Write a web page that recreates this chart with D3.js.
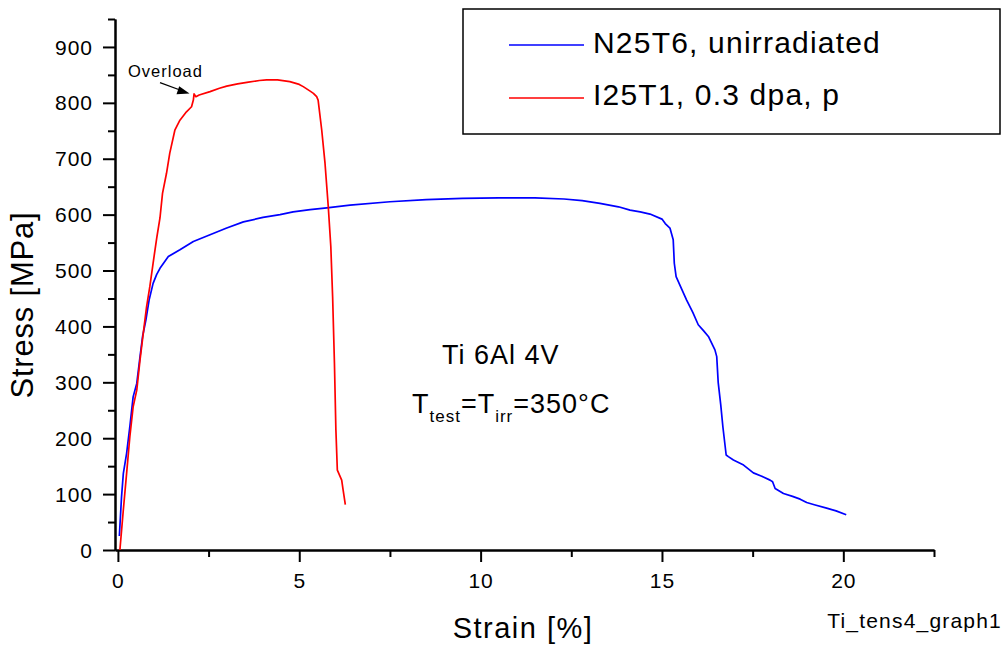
<!DOCTYPE html>
<html>
<head>
<meta charset="utf-8">
<script src="https://cdn.jsdelivr.net/npm/d3@7"></script>
<style>
  html, body { margin: 0; padding: 0; background: #fff; }
  svg { display: block; font-family: "Liberation Sans", Arial, sans-serif; }
</style>
</head>
<body>
<svg id="chart" width="1008" height="647"></svg>
<script>
// ---- data ----
const blueStrain = [0.04,0.10,0.15,0.24,0.33,0.42,0.52,0.61,0.68,0.77,0.86,0.97,1.07,1.16,1.39,1.71,2.08,2.54,3.0,3.46,4.0,4.47,4.83,5.3,5.76,6.4,7.5,8.5,9.5,10.5,11.5,12.3,12.8,13.29,13.8,14.12,14.4,14.67,15.0,15.09,15.22,15.31,15.34,15.39,15.55,15.68,15.85,16.0,16.15,16.28,16.4,16.46,16.51,16.55,16.62,16.68,16.77,16.83,16.97,17.25,17.52,17.75,17.98,18.05,18.12,18.35,18.6,18.81,18.99,19.2,19.54,19.8,20.08];
const blueStress = [25,95,137,173,221,274,298,346,382,411,447,477,493,504,525,537,552,564,576,587,595,600,605,609,612,617,623,627,629,630,630,628,625,620,614,608,605,601,592,584,576,555,513,489,466,447,425,403,392,382,366,358,346,300,260,220,170,167,161,152,138,132,125,122,110,101,96,91,85,81,75,70,63];
const redStrain = [0.055,0.15,0.24,0.33,0.42,0.52,0.61,0.70,0.79,0.88,0.97,1.07,1.16,1.23,1.34,1.43,1.57,1.71,1.89,2.03,2.08,2.10,2.15,2.24,2.54,2.8,3.0,3.3,3.6,3.9,4.1,4.4,4.74,5.0,5.11,5.3,5.39,5.48,5.52,5.62,5.71,5.80,5.87,5.92,5.97,6.01,6.05,6.17,6.21,6.27];
const redStress = [0,72,137,203,256,286,340,388,435,471,513,558,594,638,674,710,751,769,784,793,805,816,811,814,820,826,830,834,837,840,841,841,838,833,829,821,817,811,805,751,692,614,543,453,334,215,143,125,107,81];
const seriesNames = ["N25T6, unirradiated", "I25T1, 0.3 dpa, p"];
const seriesColors = ["#0000ff", "#ff0000"];
const xMajorTicks = [0, 5, 10, 15, 20];
const xMinorTicks = [2.5, 7.5, 12.5, 17.5, 22.5];
const yMajorTicks = [0, 100, 200, 300, 400, 500, 600, 700, 800, 900];
const yMinorTicks = [50, 150, 250, 350, 450, 550, 650, 750, 850, 950];

const svg = d3.select("#chart");
const x = d3.scaleLinear().domain([-0.08, 22.5]).range([115, 934]);
const y = d3.scaleLinear().domain([0, 950]).range([550, 19]);

// ---- axes ----
function styleAxis(g) {
  g.selectAll("path.domain").attr("stroke", "#000").attr("stroke-width", 2);
  g.selectAll(".tick line").attr("stroke", "#000").attr("stroke-width", 2);
  g.selectAll(".tick text").attr("fill", "#000").style("font-size", "21px")
    .style("letter-spacing", "1px").style("font-family", "'Liberation Sans', Arial, sans-serif");
}
const xMinor = svg.append("g").attr("transform", "translate(0,550)")
  .call(d3.axisBottom(x).tickValues(xMinorTicks).tickSize(7).tickSizeOuter(0).tickFormat(""));
styleAxis(xMinor);
const yMinor = svg.append("g").attr("transform", "translate(115,0)")
  .call(d3.axisLeft(y).tickValues(yMinorTicks).tickSize(7).tickSizeOuter(0).tickFormat(""));
styleAxis(yMinor);
const xAxis = svg.append("g").attr("transform", "translate(0,550)")
  .call(d3.axisBottom(x).tickValues(xMajorTicks).tickSize(12).tickSizeOuter(0).tickPadding(11).tickFormat(d3.format("d")));
styleAxis(xAxis);
const yAxis = svg.append("g").attr("transform", "translate(115,0)")
  .call(d3.axisLeft(y).tickValues(yMajorTicks).tickSize(12).tickSizeOuter(0).tickPadding(10).tickFormat(d3.format("d")));
styleAxis(yAxis);
yAxis.selectAll(".tick text").attr("dy", "0.34em");

// ---- lines ----
const line = d3.line().x(d => x(d[0])).y(d => y(d[1]));
const blueData = blueStrain.map((v, i) => [v, blueStress[i]]);
const redData = redStrain.map((v, i) => [v, redStress[i]]);
svg.append("path").datum(blueData).attr("d", line)
  .attr("fill", "none").attr("stroke", seriesColors[0]).attr("stroke-width", 1.7).attr("stroke-linejoin", "round");
svg.append("path").datum(redData).attr("d", line)
  .attr("fill", "none").attr("stroke", seriesColors[1]).attr("stroke-width", 1.7).attr("stroke-linejoin", "round");

// ---- axis titles ----
svg.append("text").attr("x", 523).attr("y", 638).attr("text-anchor", "middle")
  .style("font-size", "29px").style("letter-spacing", "1.5px").text("Strain [%]");
svg.append("text").attr("transform", "translate(33,305) rotate(-90)").attr("text-anchor", "middle")
  .style("font-size", "31px").style("letter-spacing", "0.8px").text("Stress [MPa]");
svg.append("text").attr("x", 1002).attr("y", 628).attr("text-anchor", "end")
  .style("font-size", "21px").style("letter-spacing", "1.2px").text("Ti_tens4_graph1");

// ---- legend ----
const legend = svg.append("g");
legend.append("rect").attr("x", 463).attr("y", 9).attr("width", 537).attr("height", 125)
  .attr("fill", "#fff").attr("stroke", "#000").attr("stroke-width", 1.5);
seriesNames.forEach((name, i) => {
  const yy = [45, 98][i];
  legend.append("line").attr("x1", 509).attr("x2", 584).attr("y1", yy).attr("y2", yy)
    .attr("stroke", seriesColors[i]).attr("stroke-width", 1.7);
  legend.append("text").attr("x", 593).attr("y", [53, 105][i])
    .style("font-size", "30px").style("letter-spacing", "1.2px").text(name);
});

// ---- annotations ----
svg.append("text").attr("x", 128).attr("y", 77)
  .style("font-size", "16.5px").style("letter-spacing", "1px").text("Overload");
svg.append("line").attr("x1", 160).attr("y1", 82.7).attr("x2", 180).attr("y2", 90)
  .attr("stroke", "#000").attr("stroke-width", 1.3);
svg.append("path").attr("d", "M189.5,93.5 L176.5,94.2 L179.2,86.3 Z").attr("fill", "#000");

svg.append("text").attr("x", 442).attr("y", 364)
  .style("font-size", "27px").style("letter-spacing", "1px").text("Ti 6Al 4V");
const tt = svg.append("text").attr("x", 412).attr("y", 413)
  .style("font-size", "27px").style("letter-spacing", "1px");
tt.append("tspan").text("T");
tt.append("tspan").attr("dy", 9).style("font-size", "17px").text("test");
tt.append("tspan").attr("dy", -9).text("=T");
tt.append("tspan").attr("dy", 9).style("font-size", "17px").text("irr");
tt.append("tspan").attr("dy", -9).text("=350°C");
</script>
</body>
</html>
